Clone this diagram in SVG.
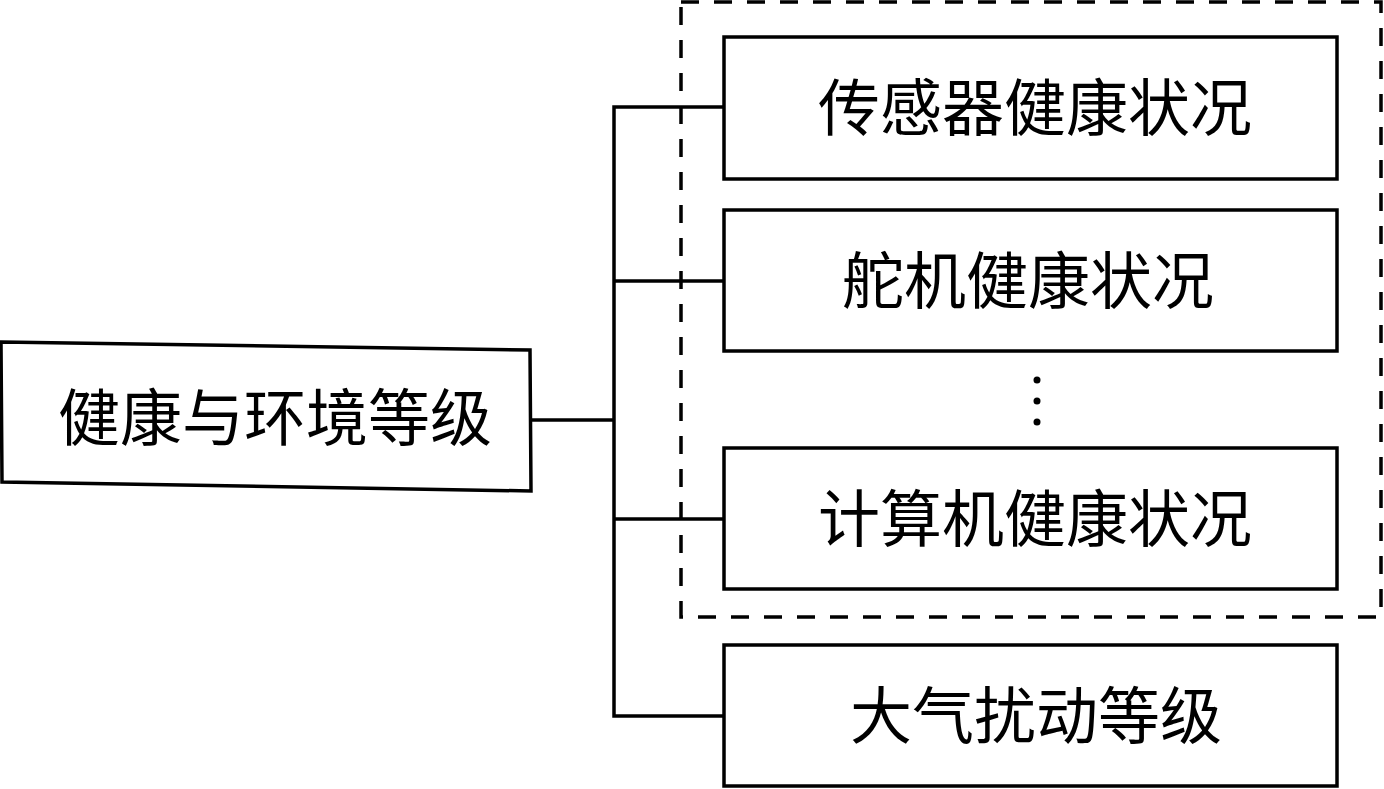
<svg xmlns="http://www.w3.org/2000/svg" width="1384" height="789" viewBox="0 0 1384 789">
<style>
.box{fill:#fff;stroke:#000;stroke-width:3.5}
.lbl{font-family:"Liberation Serif","Noto Sans CJK SC",serif;font-size:62px;fill:#000;text-anchor:middle;dominant-baseline:central}
.con{fill:none;stroke:#000;stroke-width:3.5}
.dash{fill:none;stroke:#000;stroke-width:3.5;stroke-dasharray:18 15}
</style>
<rect width="1384" height="789" fill="#fff"/>
<rect class="dash" x="681" y="2" width="700" height="615"/>
<g id="connectors">
<polyline class="con" points="531,420 614,420"/>
<polyline class="con" points="724,107 614,107 614,716 724,716"/>
<polyline class="con" points="614,281 724,281"/>
<polyline class="con" points="614,519 724,519"/>
</g>
<g id="root">
<polygon class="box" points="1,342 530,350 531,491 2,482"/>
<text class="lbl" x="275" y="420">健康与环境等级</text>
</g>
<g id="sensor">
<rect class="box" x="724" y="37" width="613" height="142"/>
<text class="lbl" x="1035" y="110">传感器健康状况</text>
</g>
<g id="servo">
<rect class="box" x="724" y="210" width="613" height="141"/>
<text class="lbl" x="1028" y="283">舵机健康状况</text>
</g>
<g id="dots">
<circle cx="1037" cy="380" r="3.5"/>
<circle cx="1037" cy="401" r="3.5"/>
<circle cx="1037" cy="422" r="3.5"/>
</g>
<g id="computer">
<rect class="box" x="724" y="448" width="613" height="141"/>
<text class="lbl" x="1035" y="521">计算机健康状况</text>
</g>
<g id="atmos">
<rect class="box" x="724" y="645" width="613" height="141"/>
<text class="lbl" x="1036" y="718">大气扰动等级</text>
</g>
</svg>
